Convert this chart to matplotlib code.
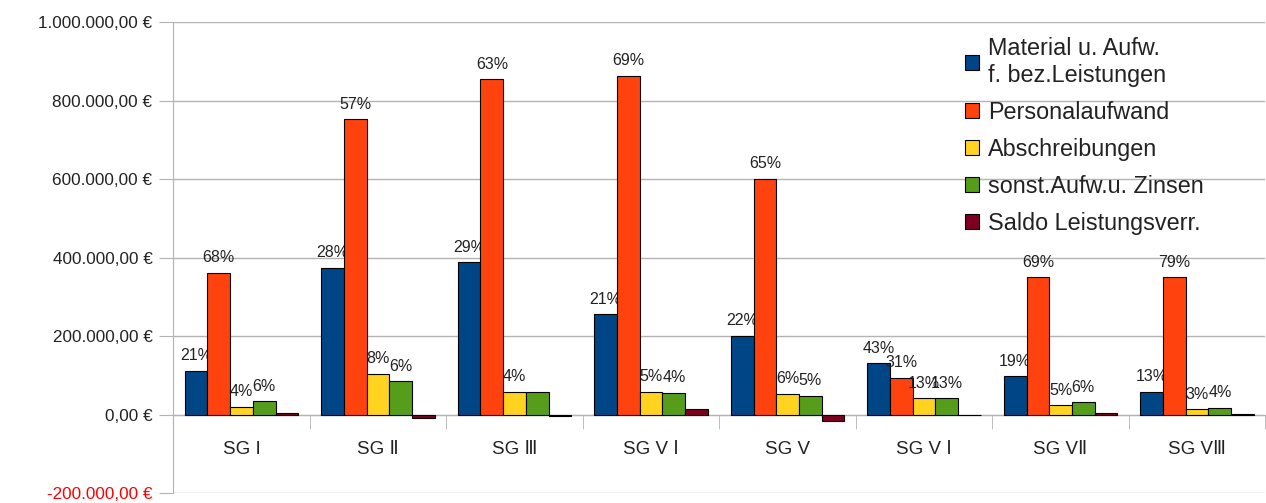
import matplotlib.pyplot as plt
import numpy as np

plt.rcParams['font.family'] = ['Liberation Sans', 'DejaVu Sans']

categories = ["SG I", "SG Ⅱ", "SG Ⅲ", "SG V Ⅰ", "SG V", "SG V Ⅰ", "SG VⅡ", "SG VⅢ"]
series_names = ["Material u. Aufw.\nf. bez.Leistungen", "Personalaufwand", "Abschreibungen",
                "sonst.Aufw.u. Zinsen", "Saldo Leistungsverr."]
colors = ["#004586", "#ff420e", "#ffd320", "#579d1c", "#7e0021"]

material = [112000, 375000, 388000, 256000, 202000, 131000, 98000, 59000]
personal = [362000, 753000, 855000, 863000, 602000, 95000, 350000, 350000]
abschreib = [21000, 105000, 59000, 59000, 54000, 42000, 24000, 14000]
sonst = [34000, 85000, 57000, 56000, 49000, 42000, 32000, 18000]
saldo = [5000, -9000, -2000, 16000, -17000, -1000, 5000, 1000]

pct_material = ["21%", "28%", "29%", "21%", "22%", "43%", "19%", "13%"]
pct_personal = ["68%", "57%", "63%", "69%", "65%", "31%", "69%", "79%"]
pct_abschreib = ["4%", "8%", "4%", "5%", "6%", "13%", "5%", "3%"]
pct_sonst = ["6%", "6%", "", "4%", "5%", "13%", "6%", "4%"]

data = [material, personal, abschreib, sonst, saldo]
pcts = [pct_material, pct_personal, pct_abschreib, pct_sonst, None]

fig = plt.figure(figsize=(12.66, 5.03), dpi=100)
ax = fig.add_axes([0.1369, 0.0193, 0.8626, 0.9364])

x = np.arange(len(categories))
w = 0.1665
for i, (vals, col, name) in enumerate(zip(data, colors, series_names)):
    pos = x + (i - 2) * w
    ax.bar(pos, vals, w, color=col, edgecolor='black', linewidth=0.8,
           label=name, zorder=3)
    if pcts[i] is not None:
        for xp, v, t in zip(pos, vals, pcts[i]):
            ax.annotate(t, (xp, v), xytext=(0, 5.5), textcoords='offset points',
                        ha='center', va='bottom', fontsize=11.5, color='#222222')

ax.set_xlim(-0.5, len(categories) - 0.5)
ax.set_ylim(-200000, 1000000)
yt = np.arange(-200000, 1000001, 200000)
ax.set_yticks(yt)
ylabels = []
for v in yt:
    s = f"{v:,.2f}".replace(",", "X").replace(".", ",").replace("X", ".") + " €"
    ylabels.append(s)
ax.set_yticklabels(ylabels, fontsize=12.3, color='#222222')
ax.get_yticklabels()[0].set_color('#ff0000')
ax.tick_params(axis='y', length=10, color='#b3b3b3', pad=5)
ax.grid(axis='y', color='#b3b3b3', linewidth=1, zorder=0)

ax.spines['bottom'].set_position(('data', 0))
ax.spines['bottom'].set_color('#b3b3b3')
ax.spines['left'].set_color('#b3b3b3')
ax.spines['top'].set_visible(False)
ax.spines['right'].set_visible(False)
ax.set_xticks(x)
ax.set_xticklabels(categories, fontsize=13.5, color='#222222')
ax.set_xticks(np.arange(-0.5, len(categories)), minor=True)
ax.tick_params(axis='x', which='major', length=0, pad=19)
ax.tick_params(axis='x', which='minor', length=10, color='#b3b3b3')

ax.legend(loc='upper left', bbox_to_anchor=(965 / 1266, 1 - 37 / 503), bbox_transform=fig.transFigure,
          frameon=False, fontsize=16.8, borderpad=0, borderaxespad=0,
          handlelength=0.6, handleheight=0.6, handletextpad=0.4,
          labelspacing=0.6, labelcolor='#222222')

fig.savefig('out.png', dpi=100)
